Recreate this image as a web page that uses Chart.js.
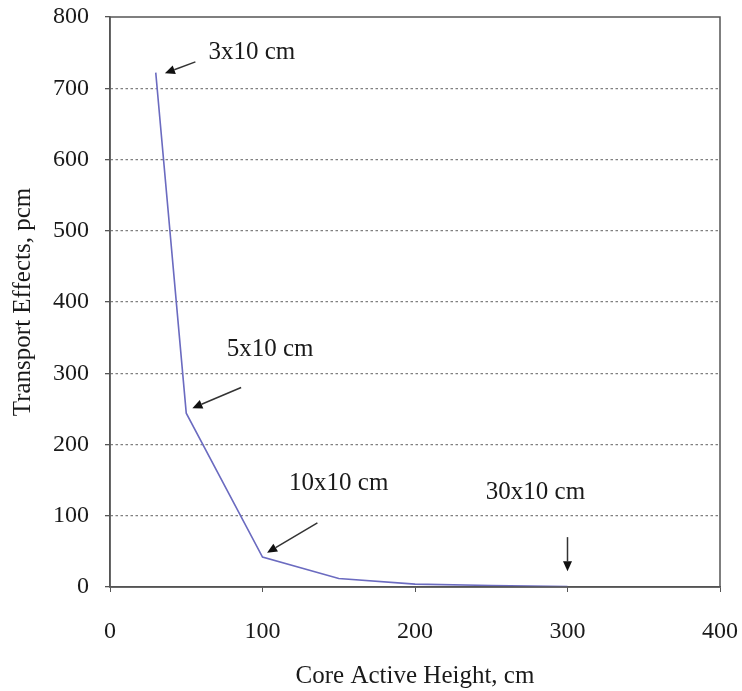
<!DOCTYPE html>
<html>
<head>
<meta charset="utf-8">
<script src="https://cdn.jsdelivr.net/npm/chart.js@4"></script>
<style>
    html, body { margin: 0; padding: 0; background: #fff; }
    #wrap { width: 742px; height: 691px; }
</style>
</head>
<body>
<div id="wrap"><canvas id="transportChart" width="742" height="691"></canvas></div>
<script>
// Core active height (cm) vs. transport effect (pcm)
const coreHeights = [30, 50, 100, 150, 200, 250, 300];
const transportEffects = [722, 244, 42, 12, 4, 2, 0.5];
const xTicks = [0, 100, 200, 300, 400];
const yTicks = [0, 100, 200, 300, 400, 500, 600, 700, 800];

// Callouts: label text, label anchor, arrow tail and head, all in data units
const calloutLabels = ['3x10 cm', '5x10 cm', '10x10 cm', '30x10 cm'];
const calloutText = [[93, 750], [105, 333], [150, 146], [279, 133]];
const calloutTail = [[56, 737], [86, 280], [136, 90], [300, 70]];
const calloutHead = [[36, 721], [54, 251], [103, 48], [300, 22]];

const serif = '"Liberation Serif", "DejaVu Serif", serif';
const inkColor = '#1a1a1a';

// Draws the arrow callouts and the plot frame
const calloutPlugin = {
    id: 'callouts',
    afterDatasetsDraw(chart) {
        const { ctx, scales: { x, y }, chartArea } = chart;
        ctx.save();

        // frame
        ctx.strokeStyle = '#555';
        ctx.lineWidth = 1.5;
        ctx.strokeRect(chartArea.left, chartArea.top,
            chartArea.right - chartArea.left, chartArea.bottom - chartArea.top);

        ctx.font = '25px ' + serif;
        ctx.fillStyle = inkColor;
        ctx.textAlign = 'center';
        ctx.textBaseline = 'middle';

        calloutLabels.forEach((label, i) => {
            ctx.fillText(label, x.getPixelForValue(calloutText[i][0]),
                y.getPixelForValue(calloutText[i][1]));

            const x0 = x.getPixelForValue(calloutTail[i][0]);
            const y0 = y.getPixelForValue(calloutTail[i][1]);
            const x1 = x.getPixelForValue(calloutHead[i][0]);
            const y1 = y.getPixelForValue(calloutHead[i][1]);
            const ang = Math.atan2(y1 - y0, x1 - x0);
            const len = 10, half = 4.5;

            ctx.strokeStyle = '#333';
            ctx.lineWidth = 1.5;
            ctx.beginPath();
            ctx.moveTo(x0, y0);
            ctx.lineTo(x1 - Math.cos(ang) * len, y1 - Math.sin(ang) * len);
            ctx.stroke();

            ctx.fillStyle = '#111';
            ctx.beginPath();
            ctx.moveTo(x1, y1);
            ctx.lineTo(x1 - Math.cos(ang) * len - Math.sin(ang) * half,
                y1 - Math.sin(ang) * len + Math.cos(ang) * half);
            ctx.lineTo(x1 - Math.cos(ang) * len + Math.sin(ang) * half,
                y1 - Math.sin(ang) * len - Math.cos(ang) * half);
            ctx.closePath();
            ctx.fill();
            ctx.fillStyle = inkColor;
        });
        ctx.restore();
    }
};

new Chart(document.getElementById('transportChart'), {
    type: 'line',
    data: {
        datasets: [{
            data: coreHeights.map((h, i) => ({ x: h, y: transportEffects[i] })),
            borderColor: '#6b6bc0',
            borderWidth: 1.6,
            pointRadius: 0,
            tension: 0,
            fill: false
        }]
    },
    options: {
        responsive: false,
        animation: false,
        layout: { padding: { left: 0, right: 22, top: 17, bottom: 0 } },
        plugins: {
            legend: { display: false },
            tooltip: { enabled: false }
        },
        scales: {
            x: {
                type: 'linear',
                min: 0,
                max: 400,
                afterBuildTicks: axis => { axis.ticks = xTicks.map(v => ({ value: v })); },
                afterFit: axis => {
                    axis.height = 104;
                    axis.paddingLeft = 0;
                    axis.paddingRight = 0;
                },
                grid: {
                    display: true,
                    drawOnChartArea: false,
                    drawTicks: true,
                    tickLength: 5,
                    color: '#555'
                },
                border: { display: true, color: '#555', width: 1.5 },
                ticks: {
                    color: inkColor,
                    font: { family: serif, size: 24 },
                    padding: 25,
                    maxRotation: 0
                },
                title: {
                    display: true,
                    text: 'Core Active Height, cm',
                    color: inkColor,
                    font: { family: serif, size: 25 },
                    padding: { top: 6, bottom: 0 }
                }
            },
            y: {
                type: 'linear',
                min: 0,
                max: 800,
                afterBuildTicks: axis => { axis.ticks = yTicks.map(v => ({ value: v })); },
                afterFit: axis => {
                    axis.width = 110;
                    axis.paddingTop = 0;
                    axis.paddingBottom = 0;
                },
                grid: {
                    display: true,
                    color: ctx => (ctx.tick && (ctx.tick.value === 0 || ctx.tick.value === 800)) ? 'rgba(0,0,0,0)' : '#808080',
                    tickColor: '#555',
                    lineWidth: 1.3,
                    drawTicks: true,
                    tickLength: 5
                },
                border: { display: true, color: '#555', width: 1.5, dash: [2.5, 2.5] },
                ticks: {
                    color: inkColor,
                    font: { family: serif, size: 24 },
                    padding: 16
                },
                title: {
                    display: true,
                    text: 'Transport Effects, pcm',
                    color: inkColor,
                    font: { family: serif, size: 25 },
                    padding: { top: 8, bottom: 4 }
                }
            }
        }
    },
    plugins: [calloutPlugin]
});
</script>
</body>
</html>
